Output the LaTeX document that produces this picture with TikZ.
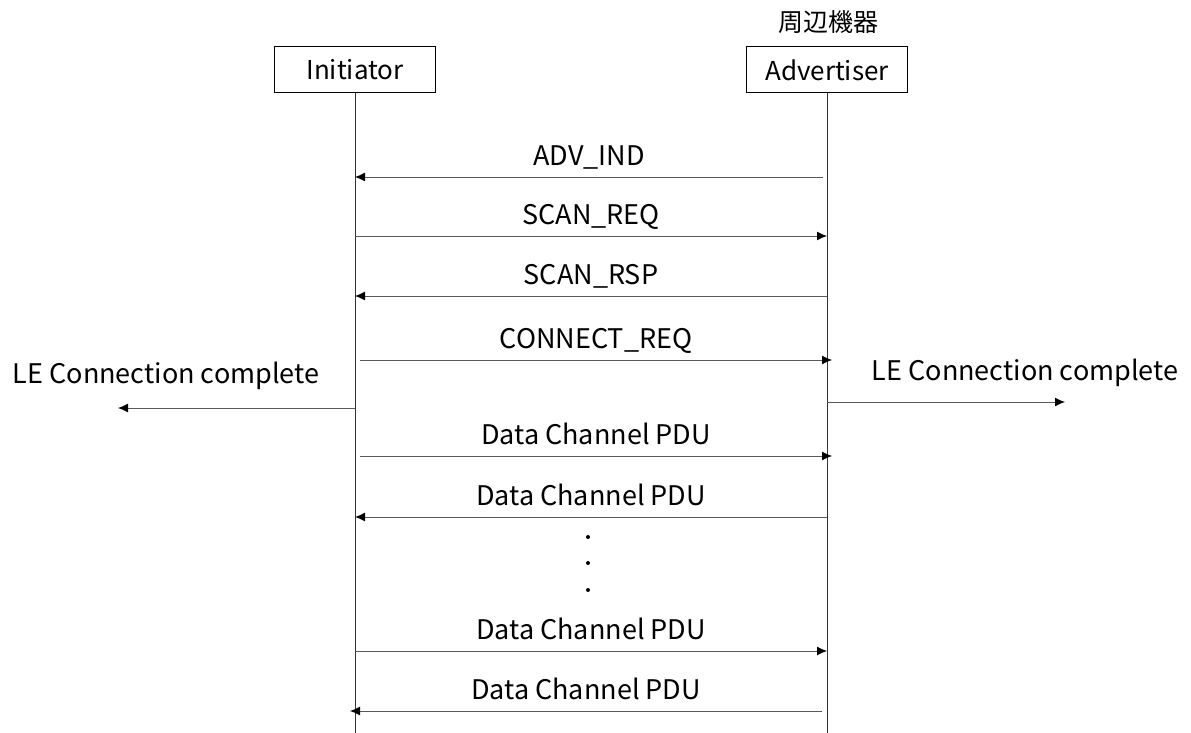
\documentclass[tikz,border=0pt]{standalone}
\usepackage{fontspec}
\setmainfont{Noto Sans CJK JP}
\usepackage{tikz}
\usetikzlibrary{arrows.meta,positioning}
\tikzset{
  actor/.style={draw=black, line width=1pt, minimum width=161pt, minimum height=46pt, inner sep=0pt, font=\fontsize{26}{30}\selectfont},
  lifeline/.style={draw=black!80, line width=1pt},
  msg/.style={-{Latex[length=10pt,width=9pt,black]}, draw=black!65, line width=1pt},
  lbl/.style={midway, anchor=base, yshift=12pt, inner sep=0pt, font=\fontsize{27}{30}\selectfont},
  note/.style={inner sep=0pt, font=\fontsize{27}{30}\selectfont}
}
\begin{document}
\begin{tikzpicture}[x=1pt,y=-1pt]
  \useasboundingbox (0,0) rectangle (1191,733);
  % participants
  \node[actor] (ini) at (355,70) {Initiator};
  \node[actor] (adv) at (827,70) {Advertiser};
  \node[note, font=\fontsize{25}{28}\selectfont] (peri) at (828,22) {周辺機器};
  \coordinate (iend) at (355,733);
  \coordinate (aend) at (827,733);
  \draw[lifeline] (ini.south) -- (iend);
  \draw[lifeline] (adv.south) -- (aend);
  % points on the lifelines
  \coordinate (i1) at (355,177); \coordinate (a1) at (823,177);
  \coordinate (i2) at (355,236); \coordinate (a2) at (827,236);
  \coordinate (i3) at (355,296); \coordinate (a3) at (827,296);
  \coordinate (i4) at (360,360); \coordinate (a4) at (832,360);
  \coordinate (i5) at (360,456); \coordinate (a5) at (832,456);
  \coordinate (i6) at (355,517); \coordinate (a6) at (827,517);
  \coordinate (i7) at (355,651); \coordinate (a7) at (827,651);
  \coordinate (i8) at (350,711); \coordinate (a8) at (822,711);
  % messages
  \draw[msg] (a1) -- node[lbl] {ADV\_IND} (i1);
  \draw[msg] (i2) -- node[lbl] {SCAN\_REQ} (a2);
  \draw[msg] (a3) -- node[lbl] {SCAN\_RSP} (i3);
  \draw[msg] (i4) -- node[lbl] {CONNECT\_REQ} (a4);
  \draw[msg] (i5) -- node[lbl] {Data Channel PDU} (a5);
  \draw[msg] (a6) -- node[lbl] {Data Channel PDU} (i6);
  \draw[msg] (i7) -- node[lbl] {Data Channel PDU} (a7);
  \draw[msg] (a8) -- node[lbl] {Data Channel PDU} (i8);
  % connection complete
  \coordinate (il) at (355,408); \coordinate (lout) at (118,408);
  \coordinate (ar) at (827,402); \coordinate (rout) at (1065,402);
  \node[note] (lcl) at (166,376) {LE Connection complete};
  \node[note] (lcr) at (1025,373) {LE Connection complete};
  \draw[msg] (il) -- (lout);
  \draw[msg] (ar) -- (rout);
  % more PDUs
  \fill (588,537) circle (2pt);
  \fill (588,563) circle (2pt);
  \fill (588,590) circle (2pt);
\end{tikzpicture}
\end{document}
